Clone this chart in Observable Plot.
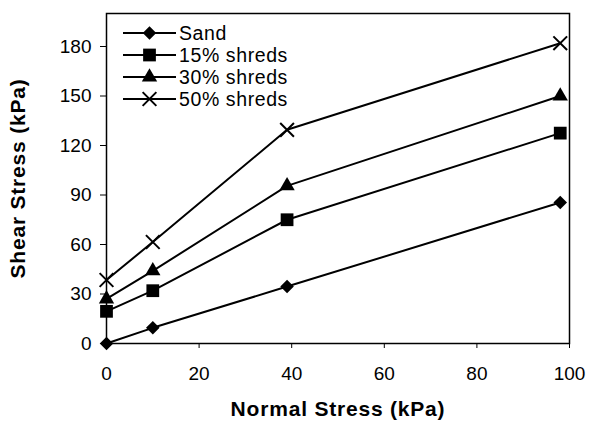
<!DOCTYPE html>
<html><head><meta charset="utf-8">
<script src="https://cdn.jsdelivr.net/npm/d3@7"></script>
<script src="https://cdn.jsdelivr.net/npm/@observablehq/plot@0.6"></script>
<style>body{margin:0;background:#fff;} #chart{position:relative;width:589px;height:423px;}</style>
</head><body><div id="chart"></div>
<script>
const series = ["Sand", "15% shreds", "30% shreds", "50% shreds"];
const symbols = ["diamond2", "square", "triangle", "times"];
const normalStress = [0, 10, 39, 98];
const sand = [0, 9.5, 34.5, 85.5];
const shreds15 = [19.5, 32, 75, 127.5];
const shreds30 = [27, 44, 95.5, 150];
const shreds50 = [38.5, 61.5, 129.5, 182];
const xTicks = [0, 20, 40, 60, 80, 100];
const yTicks = [0, 30, 60, 90, 120, 150, 180];

const values = [sand, shreds15, shreds30, shreds50];
const data = [];
series.forEach((s, i) => normalStress.forEach((x, j) => data.push({series: s, x, y: values[i][j]})));

const font = "Liberation Sans, Arial, sans-serif";
const symSize = {diamond2: 6.1, square: 7.2, triangle: 5.7, times: 6.3};
const W = 589, H = 423, mL = 106, mR = 20, mT = 13, mB = 80;
const dotMarks = series.map((s, i) => {
  const sym = symbols[i];
  const rows = data.filter(d => d.series === s);
  return sym === "times"
    ? Plot.dot(rows, {x: "x", y: "y", symbol: sym, stroke: "#000", strokeWidth: 2, r: symSize[sym]})
    : Plot.dot(rows, {x: "x", y: "y", symbol: sym, fill: "#000", stroke: "none", r: symSize[sym]});
});
const plot = Plot.plot({
  width: W, height: H,
  marginLeft: mL, marginRight: mR, marginTop: mT, marginBottom: mB,
  style: {fontFamily: font, color: "#000", background: "#fff"},
  x: {domain: [0, 100], ticks: xTicks, tickSize: 5, tickPadding: 18, label: "Normal Stress (kPa)", labelAnchor: "center", labelOffset: 72, labelArrow: "none"},
  y: {domain: [0, 200], ticks: yTicks, tickSize: 6, tickPadding: 9, label: "Shear Stress (kPa)", labelAnchor: "center", labelOffset: 96, labelArrow: "none"},
  marks: [
    Plot.frame({stroke: "#000", strokeWidth: 1.5}),
    Plot.line(data, {x: "x", y: "y", z: "series", stroke: "#000", strokeWidth: 2}),
    ...dotMarks
  ]
});
document.getElementById("chart").appendChild(plot);
const svg = d3.select(plot);
svg.selectAll("text").style("font-size", "19px").style("font-family", font);
svg.selectAll("[aria-label='x-axis label'] text, [aria-label='y-axis label'] text")
  .style("font-weight", "bold").style("font-size", "21px").style("letter-spacing", "0.8px");

// legend inside plot area, top-left
const lg = svg.append("g").attr("text-anchor", "start");
const rowH = 22, lx0 = mL + 17, lx1 = mL + 70, ly0 = mT + 20;
const symMap = {diamond2: d3.symbolDiamond2, square: d3.symbolSquare, triangle: d3.symbolTriangle, times: d3.symbolTimes};
series.forEach((s, i) => {
  const y = ly0 + i * rowH;
  lg.append("line").attr("x1", lx0).attr("x2", lx1).attr("y1", y).attr("y2", y).attr("stroke", "#000").attr("stroke-width", 2);
  const sym = symbols[i];
  const area = Math.PI * symSize[sym] * symSize[sym];
  const p = lg.append("path").attr("d", d3.symbol(symMap[sym], area)()).attr("transform", `translate(${(lx0 + lx1) / 2},${y})`);
  if (sym === "times") p.attr("fill", "none").attr("stroke", "#000").attr("stroke-width", 2);
  else p.attr("fill", "#000");
  lg.append("text").attr("x", lx1 + 3).attr("y", y).attr("dy", "0.36em").attr("text-anchor", "start").text(s)
    .style("font-family", font).style("font-size", "19.5px").style("letter-spacing", "0.6px");
});
</script></body></html>
